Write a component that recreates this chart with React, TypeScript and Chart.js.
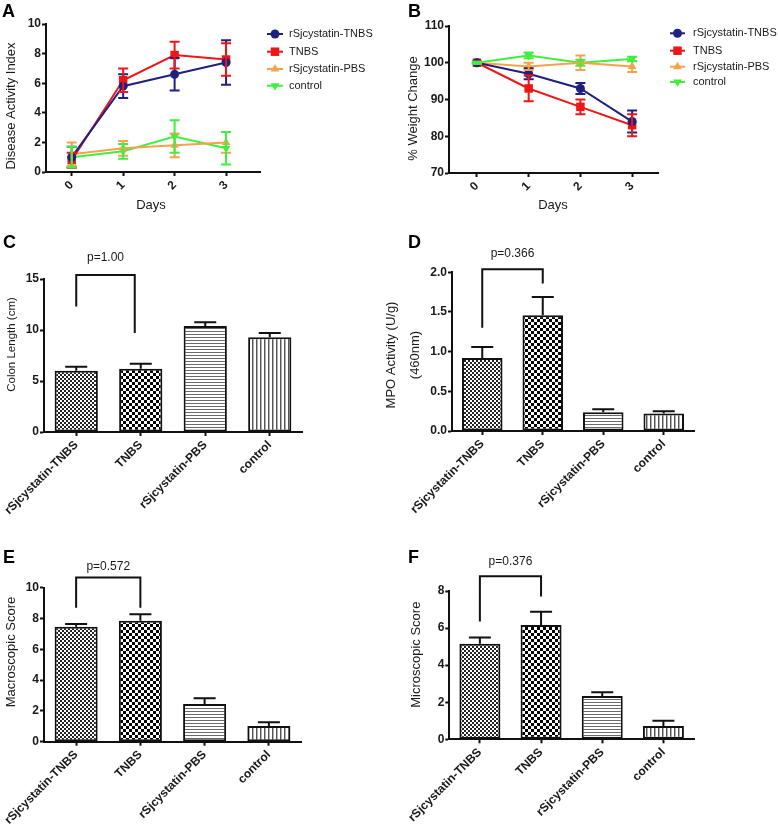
import React, { useEffect, useRef } from 'react';
import { Chart, registerables } from 'chart.js';

Chart.register(...registerables);

const FONT = "'Liberation Sans', Arial, Helvetica, sans-serif";
const TXT = '#1a1a1a';

// ---------- data ----------
const DAYS = [0, 1, 2, 3];
const SERIES_LABELS = ['rSjcystatin-TNBS', 'TNBS', 'rSjcystatin-PBS', 'control'];
const SERIES_COLORS = ['#20207f', '#ee1616', '#f6a24c', '#3ef03e'];

// Panel A: Disease Activity Index
const DAI_RSJ_TNBS = [1.0, 5.8, 6.6, 7.4];
const DAI_RSJ_TNBS_ERR = [0.7, 0.8, 1.1, 1.5];
const DAI_TNBS = [0.8, 6.2, 7.9, 7.6];
const DAI_TNBS_ERR = [0.5, 0.8, 0.9, 1.1];
const DAI_RSJ_PBS = [1.2, 1.6, 1.8, 2.0];
const DAI_RSJ_PBS_ERR = [0.8, 0.5, 0.8, 0.7];
const DAI_CONTROL = [1.0, 1.4, 2.4, 1.6];
const DAI_CONTROL_ERR = [0.7, 0.5, 1.1, 1.1];

// Panel B: % Weight Change
const WT_RSJ_TNBS = [100, 97, 93, 84];
const WT_RSJ_TNBS_ERR = [0.3, 1.5, 1.5, 3.0];
const WT_TNBS = [100, 93, 88, 83];
const WT_TNBS_ERR = [0.3, 3.5, 2.0, 3.0];
const WT_RSJ_PBS = [100, 99, 100, 99];
const WT_RSJ_PBS_ERR = [0.3, 1.0, 2.0, 1.5];
const WT_CONTROL = [100, 102, 100, 101];
const WT_CONTROL_ERR = [0.3, 0.8, 0.8, 0.6];

// Bar panels
const GROUPS = ['rSjcystatin-TNBS', 'TNBS', 'rSjcystatin-PBS', 'control'];
const COLON = [6.0, 6.2, 10.4, 9.3];
const COLON_ERR = [0.4, 0.5, 0.35, 0.4];
const MPO = [0.92, 1.46, 0.235, 0.22];
const MPO_ERR = [0.14, 0.23, 0.04, 0.03];
const MACRO = [7.47, 7.86, 2.45, 1.02];
const MACRO_ERR = [0.17, 0.41, 0.37, 0.24];
const MICRO = [5.15, 6.16, 2.34, 0.72];
const MICRO_ERR = [0.34, 0.72, 0.2, 0.28];

// Significance brackets: [top, left leg end, right leg end]
const BRACKET_C = [15.4, 12.3, 9.7];
const BRACKET_D = [2.04, 1.3, 1.86];
const BRACKET_E = [10.67, 8.7, 8.7];
const BRACKET_F = [8.8, 6.36, 7.7];
const P_TEXTS = ['p=1.00', 'p=0.366', 'p=0.572', 'p=0.376'];

// ---------- drawing helpers ----------
function drawMarker(ctx: CanvasRenderingContext2D, style: string, x: number, y: number, r: number, rot: number) {
  ctx.beginPath();
  if (style === 'circle') {
    ctx.arc(x, y, r, 0, Math.PI * 2);
  } else if (style === 'rect') {
    const s = r * Math.SQRT1_2;
    ctx.rect(x - s, y - s, 2 * s, 2 * s);
  } else {
    const dir = rot === 180 ? -1 : 1;
    ctx.moveTo(x, y - dir * r);
    ctx.lineTo(x - r * 0.866, y + dir * r * 0.5);
    ctx.lineTo(x + r * 0.866, y + dir * r * 0.5);
    ctx.closePath();
  }
  ctx.fill();
}

const decoPlugin = {
  id: 'deco',
  afterDatasetsDraw(chart: any, _args: any, opts: any) {
    const ctx: CanvasRenderingContext2D = chart.ctx;
    const xS = chart.scales.x;
    const yS = chart.scales.y;
    ctx.save();
    // error bars
    chart.data.datasets.forEach((ds: any, di: number) => {
      const errs: number[] | undefined = ds.errors;
      if (!errs) return;
      const meta = chart.getDatasetMeta(di);
      const up = opts.errorMode === 'up';
      ctx.strokeStyle = up ? '#111' : ds.borderColor;
      ctx.lineWidth = 2;
      const cap = opts.cap;
      meta.data.forEach((el: any, i: number) => {
        const raw = ds.data[i];
        const v = typeof raw === 'number' ? raw : raw.y;
        const x = el.x;
        const yT = yS.getPixelForValue(v + errs[i]);
        const yB = up ? yS.getPixelForValue(v) : yS.getPixelForValue(v - errs[i]);
        ctx.beginPath();
        ctx.moveTo(x, yB);
        ctx.lineTo(x, yT);
        ctx.moveTo(x - cap, yT);
        ctx.lineTo(x + cap, yT);
        if (!up) {
          ctx.moveTo(x - cap, yB);
          ctx.lineTo(x + cap, yB);
        }
        ctx.stroke();
      });
    });
    // bracket
    if (opts.bracket) {
      const b = opts.bracket;
      const x0 = xS.getPixelForValue(0);
      const x1 = xS.getPixelForValue(1) + (b.dxRight || 0);
      const yt = yS.getPixelForValue(b.values[0]);
      ctx.strokeStyle = '#111';
      ctx.lineWidth = 2;
      ctx.beginPath();
      ctx.moveTo(x0, yS.getPixelForValue(b.values[1]));
      ctx.lineTo(x0, yt);
      ctx.lineTo(x1, yt);
      ctx.lineTo(x1, yS.getPixelForValue(b.values[2]));
      ctx.stroke();
      ctx.fillStyle = TXT;
      ctx.font = `12px ${FONT}`;
      ctx.textAlign = 'center';
      ctx.textBaseline = 'middle';
      ctx.fillText(b.text, (x0 + x1) / 2, yt - b.dy);
    }
    // legend
    if (opts.legend) {
      const L = opts.legend;
      chart.data.datasets.forEach((ds: any, i: number) => {
        const y = L.ys[i];
        ctx.strokeStyle = ds.borderColor;
        ctx.fillStyle = ds.borderColor;
        ctx.lineWidth = 2;
        ctx.beginPath();
        ctx.moveTo(L.x0, y);
        ctx.lineTo(L.x1, y);
        ctx.stroke();
        drawMarker(ctx, ds.pointStyle, (L.x0 + L.x1) / 2, y, ds.pointRadius, ds.pointRotation);
        ctx.fillStyle = TXT;
        ctx.font = `${L.size}px ${FONT}`;
        ctx.textAlign = 'left';
        ctx.textBaseline = 'middle';
        ctx.fillText(ds.label, L.tx, y);
      });
    }
    // y title
    if (opts.yTitle) {
      const t = opts.yTitle;
      ctx.fillStyle = TXT;
      ctx.font = `${t.size}px ${FONT}`;
      ctx.textAlign = 'center';
      ctx.textBaseline = 'middle';
      t.lines.forEach((line: string, i: number) => {
        ctx.save();
        ctx.translate(t.xs[i], t.y);
        ctx.rotate(-Math.PI / 2);
        ctx.fillText(line, 0, 0);
        ctx.restore();
      });
    }
    // x title
    if (opts.xTitle) {
      const t = opts.xTitle;
      ctx.fillStyle = TXT;
      ctx.font = `${t.size}px ${FONT}`;
      ctx.textAlign = 'center';
      ctx.textBaseline = 'middle';
      ctx.fillText(t.text, t.x, t.y);
    }
    // panel letter
    if (opts.letter) {
      ctx.fillStyle = '#000';
      ctx.font = `bold 18px ${FONT}`;
      ctx.textAlign = 'left';
      ctx.textBaseline = 'alphabetic';
      ctx.fillText(opts.letter.text, opts.letter.x, opts.letter.y);
    }
    ctx.restore();
  },
};

const tickFont = { family: FONT, size: 12, weight: 'bold' as const };
const gridOpts = { display: true, drawOnChartArea: false, drawTicks: true, tickLength: 4, tickWidth: 2, tickColor: '#111' };
const borderOpts = { display: true, color: '#111', width: 2 };

type Area = { left: number; right: number; top: number; bottom: number };

function lineConfig(w: number, h: number, area: Area, xMin: number, xMax: number, yMin: number, yMax: number, yStep: number,
  values: number[][], errors: number[][], deco: any): any {
  const styles = ['circle', 'rect', 'triangle', 'triangle'];
  const rots = [0, 0, 0, 180];
  const radii = [4.5, 6, 5, 5];
  return {
    type: 'line',
    data: {
      datasets: SERIES_LABELS.map((label, si) => ({
        label,
        data: DAYS.map((d, i) => ({ x: d, y: values[si][i] })),
        errors: errors[si],
        borderColor: SERIES_COLORS[si],
        backgroundColor: SERIES_COLORS[si],
        pointBackgroundColor: SERIES_COLORS[si],
        pointBorderColor: SERIES_COLORS[si],
        pointBorderWidth: 0,
        borderWidth: 2,
        pointStyle: styles[si],
        pointRotation: rots[si],
        pointRadius: radii[si],
        tension: 0,
        clip: false,
      })),
    },
    options: {
      responsive: false,
      animation: false,
      devicePixelRatio: 1,
      layout: { padding: { left: 0, top: area.top, right: w - area.right, bottom: 0 } },
      plugins: { legend: { display: false }, tooltip: { enabled: false }, deco },
      scales: {
        x: {
          type: 'linear', min: xMin, max: xMax,
          afterBuildTicks: (s: any) => { s.ticks = DAYS.map((v) => ({ value: v })); },
          afterFit: (s: any) => { s.height = h - area.bottom; s.paddingLeft = 0; s.paddingRight = 0; },
          ticks: { font: tickFont, color: TXT, minRotation: 45, maxRotation: 45, padding: 2 },
          grid: gridOpts, border: borderOpts,
        },
        y: {
          min: yMin, max: yMax,
          afterFit: (s: any) => { s.width = area.left; s.paddingTop = 0; s.paddingBottom = 0; },
          ticks: { stepSize: yStep, font: tickFont, color: TXT, padding: 1 },
          grid: gridOpts, border: borderOpts,
        },
      },
    },
    plugins: [decoPlugin],
  };
}

function makePatterns(): CanvasPattern[] {
  const mk = (size: number, draw: (g: CanvasRenderingContext2D) => void) => {
    const c = document.createElement('canvas');
    c.width = size; c.height = size;
    const g = c.getContext('2d')!;
    g.fillStyle = '#fff';
    g.fillRect(0, 0, size, size);
    draw(g);
    return g.createPattern(c, 'repeat')!;
  };
  return [
    mk(4, (g) => { g.fillStyle = '#222'; g.fillRect(0, 0, 2, 2); g.fillRect(2, 2, 2, 2); }),
    mk(6, (g) => { g.fillStyle = '#000'; g.fillRect(0, 0, 3, 3); g.fillRect(3, 3, 3, 3); }),
    mk(3, (g) => { g.fillStyle = '#6a6a6a'; g.fillRect(0, 0, 3, 1); }),
    mk(4, (g) => { g.fillStyle = '#555'; g.fillRect(0, 0, 1, 4); g.fillStyle = '#b0b0b0'; g.fillRect(1, 0, 1, 4); }),
  ];
}

function barConfig(w: number, h: number, area: Area, yMax: number, yStep: number, decimals: number,
  values: number[], errors: number[], deco: any): any {
  return {
    type: 'bar',
    data: {
      labels: GROUPS,
      datasets: [{
        data: values,
        errors,
        backgroundColor: makePatterns(),
        borderColor: '#111',
        borderWidth: 2,
        borderSkipped: false,
        barPercentage: 0.67,
        categoryPercentage: 1,
      }],
    },
    options: {
      responsive: false,
      animation: false,
      devicePixelRatio: 1,
      layout: { padding: { left: 0, top: area.top, right: w - area.right, bottom: 0 } },
      plugins: { legend: { display: false }, tooltip: { enabled: false }, deco: { ...deco, errorMode: 'up', cap: 11 } },
      scales: {
        x: {
          afterFit: (s: any) => { s.height = h - area.bottom; s.paddingLeft = 0; s.paddingRight = 0; },
          ticks: { font: tickFont, color: TXT, minRotation: 45, maxRotation: 45, autoSkip: false, padding: 2 },
          grid: { ...gridOpts, offset: false }, border: borderOpts,
        },
        y: {
          min: 0, max: yMax,
          afterFit: (s: any) => { s.width = area.left; s.paddingTop = 0; s.paddingBottom = 0; },
          ticks: { stepSize: yStep, font: tickFont, color: TXT, padding: 1, callback: (v: number) => v.toFixed(decimals) },
          grid: gridOpts, border: borderOpts,
        },
      },
    },
    plugins: [decoPlugin],
  };
}

// ---------- layout ----------
const COL2 = 378;
const W1 = 378;
const W2 = 400;
const ROW1 = 0, H1 = 226;
const ROW2 = 226, H2 = 314;
const ROW3 = 540, H3 = 284;

function Panel({ left, top, width, height, build }: { left: number; top: number; width: number; height: number; build: () => any }) {
  const ref = useRef<HTMLCanvasElement>(null);
  useEffect(() => {
    const chart = new Chart(ref.current!, build());
    return () => chart.destroy();
  }, []);
  return (
    <div style={{ position: 'absolute', left, top, width, height }}>
      <canvas ref={ref} width={width} height={height} style={{ width, height, display: 'block' }} />
    </div>
  );
}

export default function App() {
  return (
    <div style={{ position: 'absolute', left: 0, top: 0, width: 778, height: 824, background: '#fff', overflow: 'hidden' }}>
      <Panel left={0} top={ROW1} width={W1} height={H1} build={() => lineConfig(W1, H1,
        { left: 46, right: 260, top: 24, bottom: 172 }, -0.5, 3.66, 0, 10, 2,
        [DAI_RSJ_TNBS, DAI_TNBS, DAI_RSJ_PBS, DAI_CONTROL],
        [DAI_RSJ_TNBS_ERR, DAI_TNBS_ERR, DAI_RSJ_PBS_ERR, DAI_CONTROL_ERR],
        {
          errorMode: 'both', cap: 5,
          letter: { text: 'A', x: 2, y: 17 },
          yTitle: { lines: ['Disease Activity Index'], xs: [11], y: 106, size: 13 },
          xTitle: { text: 'Days', x: 151, y: 205, size: 13 },
          legend: { x0: 267, x1: 283, tx: 289, ys: [34, 51.7, 69, 85.7], size: 11 },
        })} />
      <Panel left={COL2} top={ROW1} width={W2} height={H1} build={() => lineConfig(W2, H1,
        { left: 71, right: 280, top: 26, bottom: 173 }, -0.54, 3.5, 70, 110, 10,
        [WT_RSJ_TNBS, WT_TNBS, WT_RSJ_PBS, WT_CONTROL],
        [WT_RSJ_TNBS_ERR, WT_TNBS_ERR, WT_RSJ_PBS_ERR, WT_CONTROL_ERR],
        {
          errorMode: 'both', cap: 5,
          letter: { text: 'B', x: 30, y: 17 },
          yTitle: { lines: ['% Weight Change'], xs: [35], y: 108.5, size: 13 },
          xTitle: { text: 'Days', x: 175, y: 205, size: 13 },
          legend: { x0: 292, x1: 307, tx: 315, ys: [33.3, 50.7, 66.7, 82], size: 11 },
        })} />
      <Panel left={0} top={ROW2} width={W1} height={H2} build={() => barConfig(W1, H2,
        { left: 44, right: 302, top: 53, bottom: 206 }, 15, 5, 0, COLON, COLON_ERR,
        {
          letter: { text: 'C', x: 3, y: 22 },
          yTitle: { lines: ['Colon Length (cm)'], xs: [11.5], y: 118.5, size: 11.5 },
          bracket: { values: BRACKET_C, text: P_TEXTS[0], dy: 17, dxRight: -6 },
        })} />
      <Panel left={COL2} top={ROW2} width={W2} height={H2} build={() => barConfig(W2, H2,
        { left: 74, right: 316, top: 46.3, bottom: 205 }, 2, 0.5, 1, MPO, MPO_ERR,
        {
          letter: { text: 'D', x: 30, y: 22 },
          yTitle: { lines: ['MPO Activity (U/g)', '(460nm)'], xs: [13, 37], y: 129, size: 13 },
          bracket: { values: BRACKET_D, text: P_TEXTS[1], dy: 15 },
        })} />
      <Panel left={0} top={ROW3} width={W1} height={H3} build={() => barConfig(W1, H3,
        { left: 44, right: 301, top: 47.7, bottom: 201.7 }, 10, 2, 0, MACRO, MACRO_ERR,
        {
          letter: { text: 'E', x: 3, y: 23 },
          yTitle: { lines: ['Macroscopic Score'], xs: [11], y: 112, size: 13 },
          bracket: { values: BRACKET_E, text: P_TEXTS[2], dy: 11 },
        })} />
      <Panel left={COL2} top={ROW3} width={W2} height={H3} build={() => barConfig(W2, H3,
        { left: 71.3, right: 316, top: 51, bottom: 199.3 }, 8, 2, 0, MICRO, MICRO_ERR,
        {
          letter: { text: 'F', x: 30, y: 23 },
          yTitle: { lines: ['Microscopic Score'], xs: [38], y: 114.7, size: 13 },
          bracket: { values: BRACKET_F, text: P_TEXTS[3], dy: 14 },
        })} />
    </div>
  );
}
